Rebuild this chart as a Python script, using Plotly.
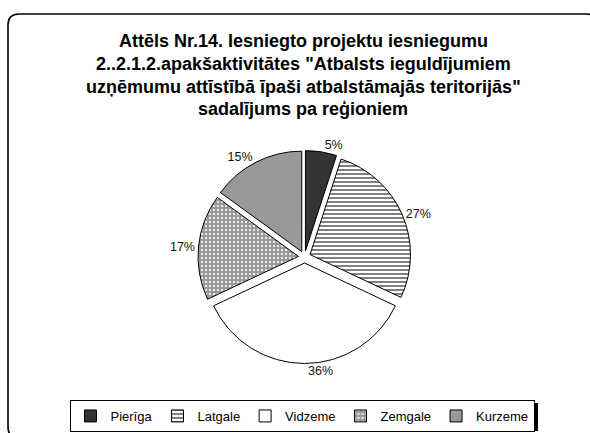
import plotly.graph_objects as go

W, H = 590, 433

regions = ["Pierīga", "Latgale", "Vidzeme", "Zemgale", "Kurzeme"]
shares = [5, 27, 36, 17, 15]
fill_colors = ["#333333", "#ffffff", "#ffffff", "#9a9a9a", "#999999"]
pattern_shapes = ["", "-", "", ".", ""]
pattern_fg = ["#333333", "#808080", "#ffffff", "#ffffff", "#999999"]
title_lines = [
    "Attēls Nr.14. Iesniegto projektu iesniegumu",
    "2..2.1.2.apakšaktivitātes \"Atbalsts ieguldījumiem",
    "uzņēmumu attīstībā īpaši atbalstāmajās teritorijās\"",
    "sadalījums pa reģioniem",
]

def px(x):
    return x / W

def py(y):
    return 1 - y / H

fig = go.Figure(go.Pie(
    labels=regions,
    values=shares,
    sort=False,
    direction="clockwise",
    rotation=0,
    pull=[0.06] * 5,
    marker=dict(
        colors=fill_colors,
        line=dict(color="black", width=1),
        pattern=dict(shape=pattern_shapes, fgcolor=pattern_fg, bgcolor=fill_colors,
                     size=[4, 4, 4, 4, 4], solidity=[0.5, 0.5, 0.5, 0.22, 0.5],
                     fillmode="replace"),
    ),
    textinfo="percent",
    texttemplate="%{percent:.0%}",
    textposition="outside",
    textfont=dict(family="Liberation Sans, Arial", size=12.5, color="#111111"),
    domain=dict(x=[px(198), px(411)], y=[py(364), py(150)]),
    hoverinfo="label+percent",
))

# rounded outer frame
x0, y0, x1, y1, r = 8, 14, 597, 438, 11
rx, ry = r / W, r / H
X0, X1 = px(x0), px(x1)
Y0, Y1 = py(y0), py(y1)
path = (f"M {X0},{Y0 - ry} L {X0},{Y1 + ry} Q {X0},{Y1} {X0 + rx},{Y1} "
        f"L {X1 - rx},{Y1} Q {X1},{Y1} {X1},{Y1 + ry} L {X1},{Y0 - ry} "
        f"Q {X1},{Y0} {X1 - rx},{Y0} L {X0 + rx},{Y0} Q {X0},{Y0} {X0},{Y0 - ry} Z")

shapes = [
    dict(type="path", path=path, xref="paper", yref="paper",
         line=dict(color="black", width=1.6), layer="below"),
    # legend shadow
    dict(type="rect", xref="paper", yref="paper",
         x0=px(73), x1=px(538), y0=py(431), y1=py(403),
         fillcolor="black", line=dict(width=0), layer="below"),
]

title_y = [41, 64, 87, 109]
annotations = [
    dict(text=f"<b>{t}</b>", x=px(303), y=py(yy), xref="paper", yref="paper",
         showarrow=False, xanchor="center", yanchor="middle",
         font=dict(family="Liberation Sans, Arial", size=18, color="black"))
    for t, yy in zip(title_lines, title_y)
]

fig.update_layout(
    width=W, height=H,
    margin=dict(l=0, r=0, t=0, b=0),
    paper_bgcolor="white",
    plot_bgcolor="white",
    shapes=shapes,
    annotations=annotations,
    showlegend=True,
    legend=dict(
        orientation="h",
        x=px(302), xanchor="center",
        y=py(400), yanchor="top",
        bgcolor="white",
        bordercolor="black", borderwidth=1,
        font=dict(family="Liberation Sans, Arial", size=13, color="black"),
        tracegroupgap=0,
        traceorder="normal",
    ),
)

fig.write_html("out.html", config={"displayModeBar": False},
               post_script="document.body.style.margin='0';")
